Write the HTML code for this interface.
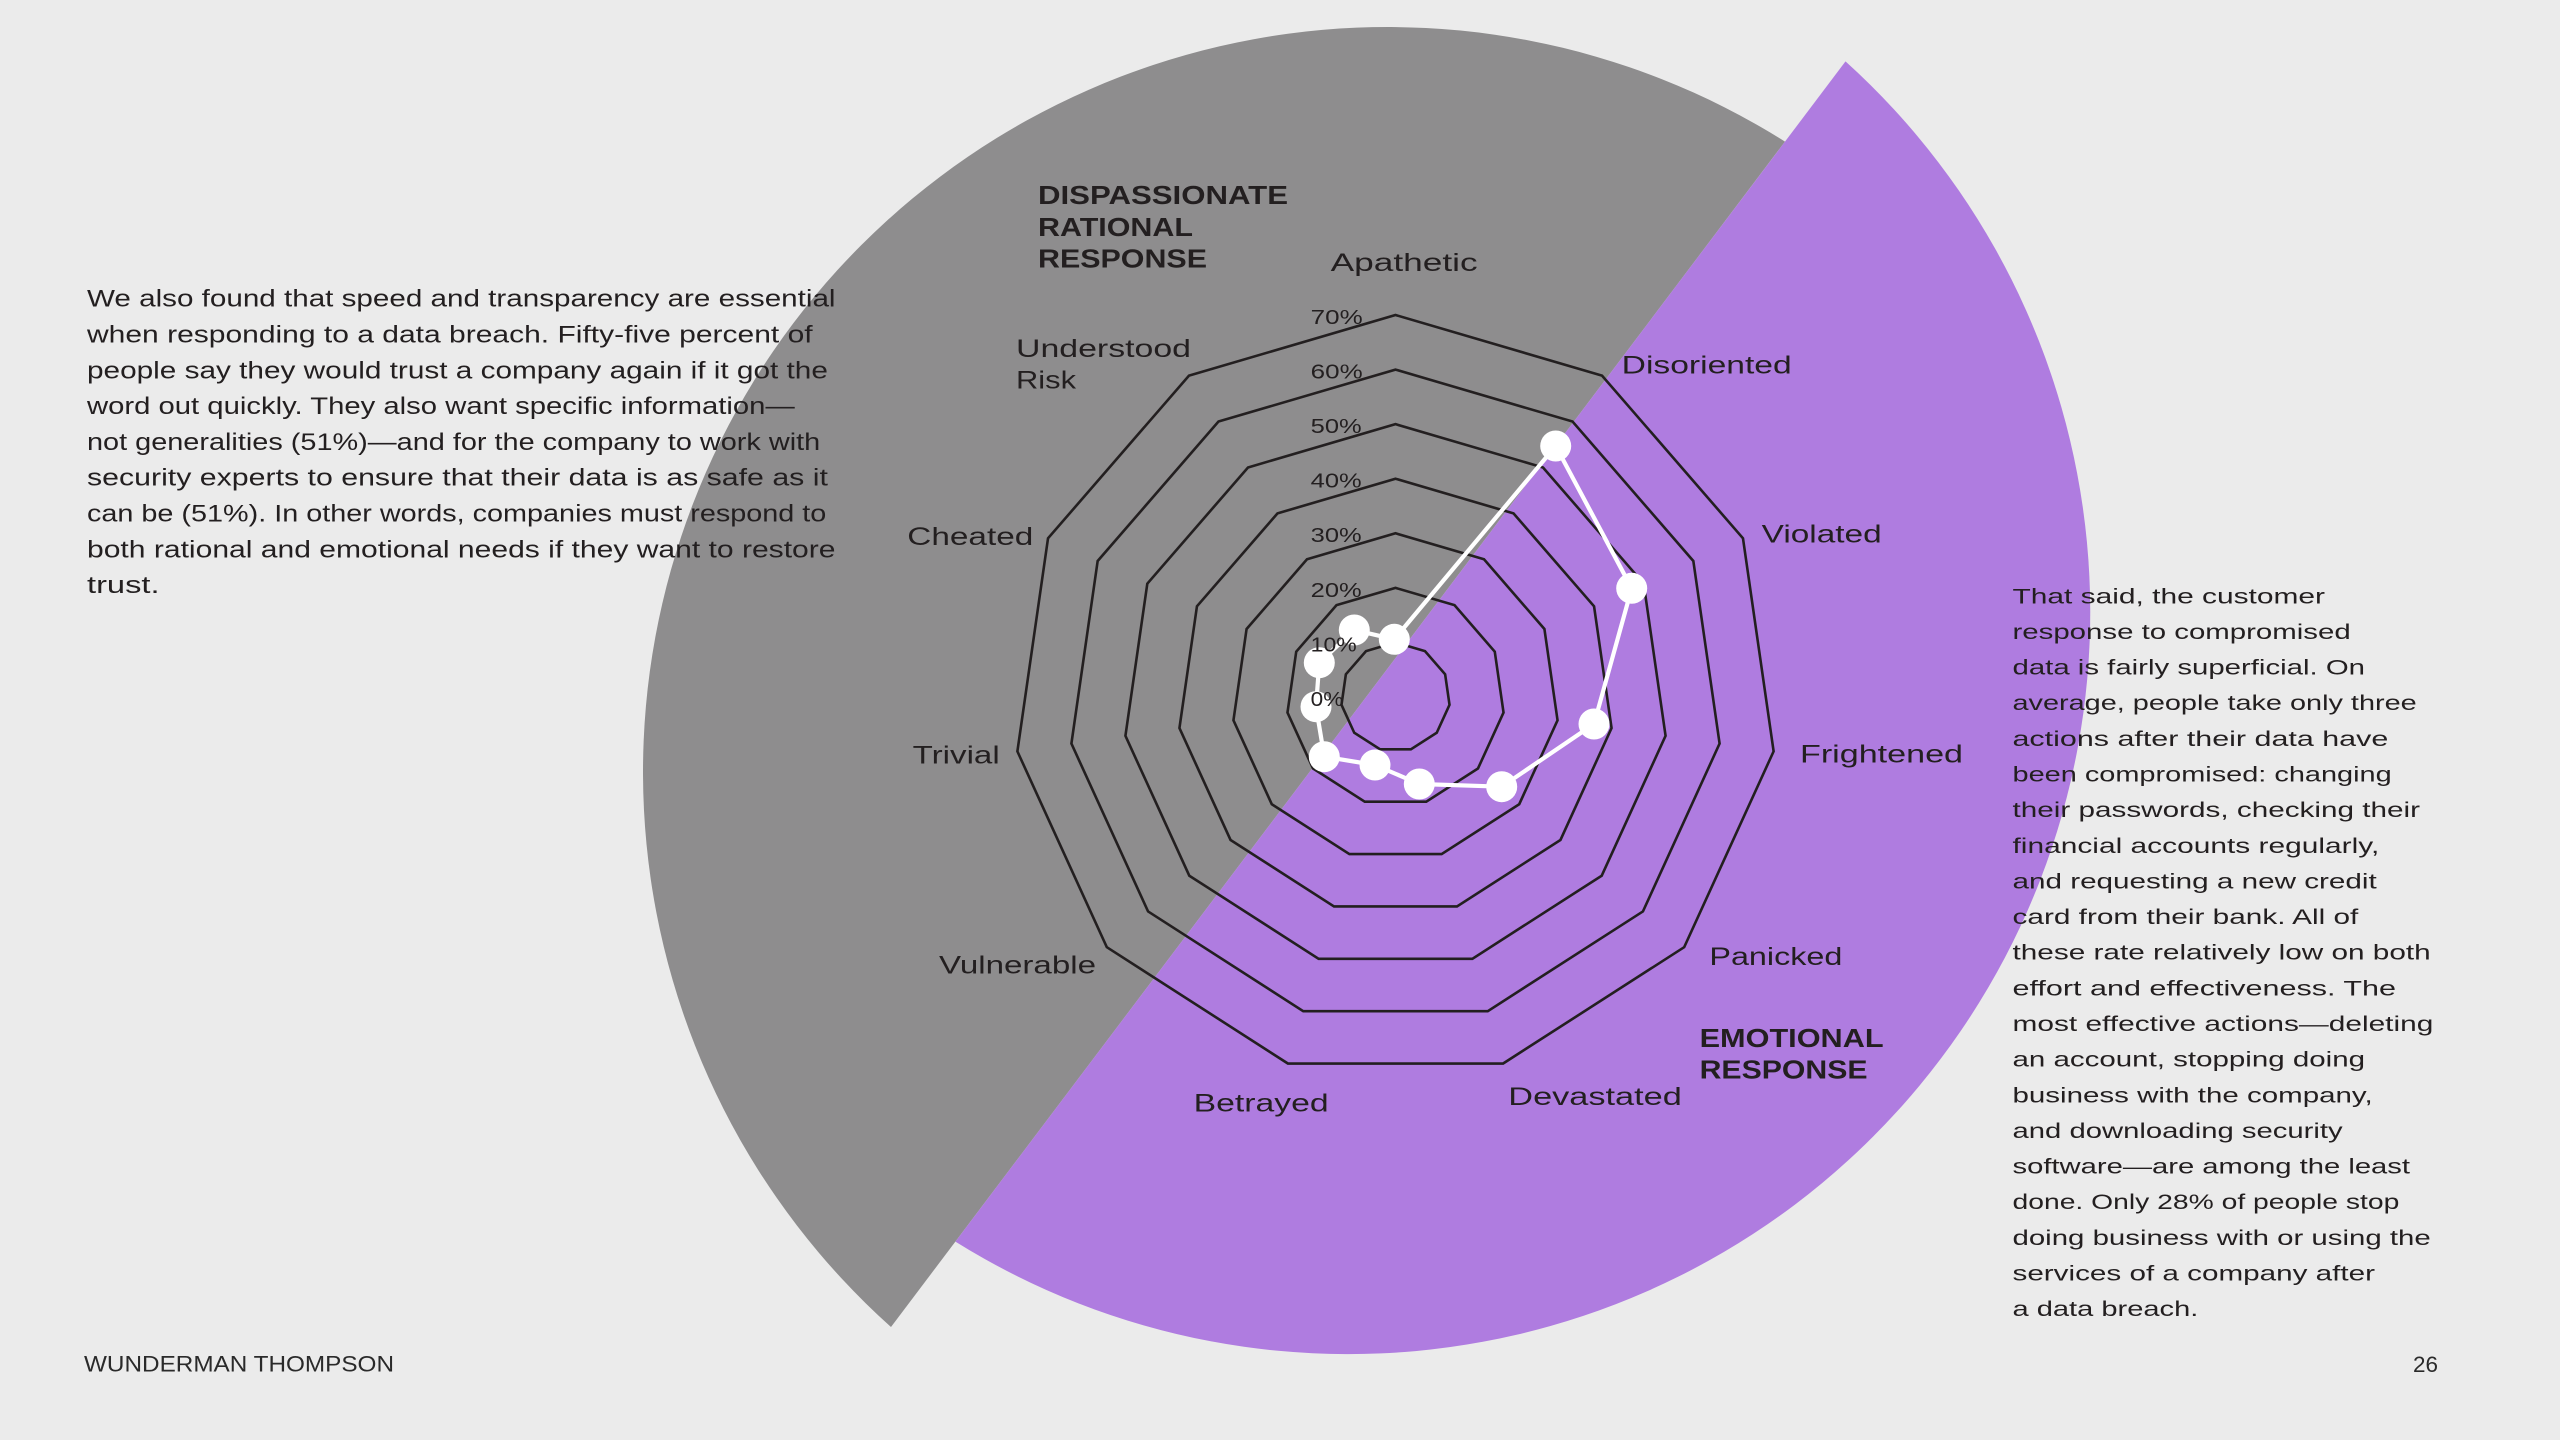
<!DOCTYPE html>
<html>
<head>
<meta charset="utf-8">
<style>
html,body{margin:0;padding:0;background:#ebebeb;overflow:hidden;}
body{width:2560px;height:1440px;}
svg{display:block;}
text{font-family:"Liberation Sans",Arial,sans-serif;fill:#231f20;}
.body{font-size:24px;}
.rt{font-size:21px;}
.lbl{font-size:25px;}
.pct{font-size:20px;}
.hd{font-size:25.5px;font-weight:bold;}
.ft{font-size:22px;fill:#2a2a2a;}
</style>
</head>
<body>
<svg width="2560" height="1440" viewBox="0 0 2560 1440" xmlns="http://www.w3.org/2000/svg">
<rect x="0" y="0" width="2560" height="1440" fill="#ebebeb"/>
<path d="M891.0,1327.0 A745,745 0 0 1 1785.0,141.6 Z" fill="#8e8d8e"/>
<path d="M1845.5,61.4 A742,742 0 0 1 955.4,1241.6 Z" fill="#af7ce0"/>

<g fill="none" stroke="#231f20" stroke-width="2.6" stroke-linejoin="miter">
<polygon vector-effect="non-scaling-stroke" transform="translate(1395.5,697) scale(0.5457)" points="0,-100 54.064,-84.125 90.963,-41.542 98.982,14.231 75.575,65.486 28.173,95.949 -28.173,95.949 -75.575,65.486 -98.982,14.231 -90.963,-41.542 -54.064,-84.125"/>
<polygon vector-effect="non-scaling-stroke" transform="translate(1395.5,697) scale(1.0914)" points="0,-100 54.064,-84.125 90.963,-41.542 98.982,14.231 75.575,65.486 28.173,95.949 -28.173,95.949 -75.575,65.486 -98.982,14.231 -90.963,-41.542 -54.064,-84.125"/>
<polygon vector-effect="non-scaling-stroke" transform="translate(1395.5,697) scale(1.6371)" points="0,-100 54.064,-84.125 90.963,-41.542 98.982,14.231 75.575,65.486 28.173,95.949 -28.173,95.949 -75.575,65.486 -98.982,14.231 -90.963,-41.542 -54.064,-84.125"/>
<polygon vector-effect="non-scaling-stroke" transform="translate(1395.5,697) scale(2.1828)" points="0,-100 54.064,-84.125 90.963,-41.542 98.982,14.231 75.575,65.486 28.173,95.949 -28.173,95.949 -75.575,65.486 -98.982,14.231 -90.963,-41.542 -54.064,-84.125"/>
<polygon vector-effect="non-scaling-stroke" transform="translate(1395.5,697) scale(2.7285)" points="0,-100 54.064,-84.125 90.963,-41.542 98.982,14.231 75.575,65.486 28.173,95.949 -28.173,95.949 -75.575,65.486 -98.982,14.231 -90.963,-41.542 -54.064,-84.125"/>
<polygon vector-effect="non-scaling-stroke" transform="translate(1395.5,697) scale(3.2742)" points="0,-100 54.064,-84.125 90.963,-41.542 98.982,14.231 75.575,65.486 28.173,95.949 -28.173,95.949 -75.575,65.486 -98.982,14.231 -90.963,-41.542 -54.064,-84.125"/>
<polygon vector-effect="non-scaling-stroke" transform="translate(1395.5,697) scale(3.82)" points="0,-100 54.064,-84.125 90.963,-41.542 98.982,14.231 75.575,65.486 28.173,95.949 -28.173,95.949 -75.575,65.486 -98.982,14.231 -90.963,-41.542 -54.064,-84.125"/>
</g>

<polygon fill="none" stroke="#ffffff" stroke-width="4.2" stroke-linejoin="round" points="1394.3,639.3 1555.7,446 1631.7,588.3 1594,724 1501.7,786.7 1419.3,784 1375,765 1324.3,756.7 1316,706.7 1319.3,662.7 1354.3,630"/>
<g fill="#ffffff">
<circle cx="1394.3" cy="639.3" r="15.5"/>
<circle cx="1555.7" cy="446" r="15.5"/>
<circle cx="1631.7" cy="588.3" r="15.5"/>
<circle cx="1594" cy="724" r="15.5"/>
<circle cx="1501.7" cy="786.7" r="15.5"/>
<circle cx="1419.3" cy="784" r="15.5"/>
<circle cx="1375" cy="765" r="15.5"/>
<circle cx="1324.3" cy="756.7" r="15.5"/>
<circle cx="1316" cy="706.7" r="15.5"/>
<circle cx="1319.3" cy="662.7" r="15.5"/>
<circle cx="1354.3" cy="630" r="15.5"/>
</g>

<text class="pct" x="1310.7" y="706" textLength="32.6" lengthAdjust="spacingAndGlyphs">0%</text>
<text class="pct" x="1310.7" y="651.4" textLength="46" lengthAdjust="spacingAndGlyphs">10%</text>
<text class="pct" x="1310.7" y="596.8" textLength="51" lengthAdjust="spacingAndGlyphs">20%</text>
<text class="pct" x="1310.7" y="542.2" textLength="51" lengthAdjust="spacingAndGlyphs">30%</text>
<text class="pct" x="1310.7" y="487.6" textLength="51" lengthAdjust="spacingAndGlyphs">40%</text>
<text class="pct" x="1310.7" y="433" textLength="51" lengthAdjust="spacingAndGlyphs">50%</text>
<text class="pct" x="1310.7" y="378.4" textLength="52" lengthAdjust="spacingAndGlyphs">60%</text>
<text class="pct" x="1310.7" y="323.8" textLength="52" lengthAdjust="spacingAndGlyphs">70%</text>

<text class="lbl" x="1330.6" y="271" textLength="147" lengthAdjust="spacingAndGlyphs">Apathetic</text>
<text class="lbl" x="1621.7" y="373.3" textLength="170" lengthAdjust="spacingAndGlyphs">Disoriented</text>
<text class="lbl" x="1016" y="357" textLength="175" lengthAdjust="spacingAndGlyphs">Understood</text>
<text class="lbl" x="1016" y="388.5" textLength="60" lengthAdjust="spacingAndGlyphs">Risk</text>
<text class="lbl" x="907.3" y="545" textLength="126" lengthAdjust="spacingAndGlyphs">Cheated</text>
<text class="lbl" x="1761.7" y="542.7" textLength="120" lengthAdjust="spacingAndGlyphs">Violated</text>
<text class="lbl" x="1800" y="762.5" textLength="163" lengthAdjust="spacingAndGlyphs">Frightened</text>
<text class="lbl" x="912.7" y="763.3" textLength="87" lengthAdjust="spacingAndGlyphs">Trivial</text>
<text class="lbl" x="939" y="973.3" textLength="157" lengthAdjust="spacingAndGlyphs">Vulnerable</text>
<text class="lbl" x="1709.4" y="965" textLength="133" lengthAdjust="spacingAndGlyphs">Panicked</text>
<text class="lbl" x="1193.6" y="1111.7" textLength="135" lengthAdjust="spacingAndGlyphs">Betrayed</text>
<text class="lbl" x="1508.3" y="1105" textLength="173.5" lengthAdjust="spacingAndGlyphs">Devastated</text>

<text class="hd" x="1038" y="204" textLength="250" lengthAdjust="spacingAndGlyphs">DISPASSIONATE</text>
<text class="hd" x="1038" y="235.8" textLength="155" lengthAdjust="spacingAndGlyphs">RATIONAL</text>
<text class="hd" x="1038" y="267.5" textLength="169" lengthAdjust="spacingAndGlyphs">RESPONSE</text>
<text class="hd" x="1699.6" y="1047" textLength="184" lengthAdjust="spacingAndGlyphs">EMOTIONAL</text>
<text class="hd" x="1699.6" y="1078.5" textLength="168" lengthAdjust="spacingAndGlyphs">RESPONSE</text>

<text class="body" x="87" y="306.7" textLength="748.5" lengthAdjust="spacingAndGlyphs">We also found that speed and transparency are essential</text>
<text class="body" x="87" y="342.5" textLength="725.6" lengthAdjust="spacingAndGlyphs">when responding to a data breach. Fifty-five percent of</text>
<text class="body" x="87" y="378.3" textLength="740.9" lengthAdjust="spacingAndGlyphs">people say they would trust a company again if it got the</text>
<text class="body" x="87" y="414.1" textLength="707.7" lengthAdjust="spacingAndGlyphs">word out quickly. They also want specific information—</text>
<text class="body" x="87" y="449.9" textLength="733.2" lengthAdjust="spacingAndGlyphs">not generalities (51%)—and for the company to work with</text>
<text class="body" x="87" y="485.7" textLength="740.9" lengthAdjust="spacingAndGlyphs">security experts to ensure that their data is as safe as it</text>
<text class="body" x="87" y="521.5" textLength="739.3" lengthAdjust="spacingAndGlyphs">can be (51%). In other words, companies must respond to</text>
<text class="body" x="87" y="557.3" textLength="748.5" lengthAdjust="spacingAndGlyphs">both rational and emotional needs if they want to restore</text>
<text class="body" x="87" y="593.1" textLength="72.5" lengthAdjust="spacingAndGlyphs">trust.</text>

<text class="rt" x="2012.5" y="603.3" textLength="312.5" lengthAdjust="spacingAndGlyphs">That said, the customer</text>
<text class="rt" x="2012.5" y="638.9" textLength="338.2" lengthAdjust="spacingAndGlyphs">response to compromised</text>
<text class="rt" x="2012.5" y="674.6" textLength="352.5" lengthAdjust="spacingAndGlyphs">data is fairly superficial. On</text>
<text class="rt" x="2012.5" y="710.2" textLength="404.2" lengthAdjust="spacingAndGlyphs">average, people take only three</text>
<text class="rt" x="2012.5" y="745.9" textLength="375.8" lengthAdjust="spacingAndGlyphs">actions after their data have</text>
<text class="rt" x="2012.5" y="781.5" textLength="379.2" lengthAdjust="spacingAndGlyphs">been compromised: changing</text>
<text class="rt" x="2012.5" y="817.1" textLength="407.5" lengthAdjust="spacingAndGlyphs">their passwords, checking their</text>
<text class="rt" x="2012.5" y="852.8" textLength="366.8" lengthAdjust="spacingAndGlyphs">financial accounts regularly,</text>
<text class="rt" x="2012.5" y="888.4" textLength="364.2" lengthAdjust="spacingAndGlyphs">and requesting a new credit</text>
<text class="rt" x="2012.5" y="924.1" textLength="345.8" lengthAdjust="spacingAndGlyphs">card from their bank. All of</text>
<text class="rt" x="2012.5" y="959.7" textLength="418.2" lengthAdjust="spacingAndGlyphs">these rate relatively low on both</text>
<text class="rt" x="2012.5" y="995.3" textLength="383.5" lengthAdjust="spacingAndGlyphs">effort and effectiveness. The</text>
<text class="rt" x="2012.5" y="1031" textLength="420.8" lengthAdjust="spacingAndGlyphs">most effective actions—deleting</text>
<text class="rt" x="2012.5" y="1066.6" textLength="352.5" lengthAdjust="spacingAndGlyphs">an account, stopping doing</text>
<text class="rt" x="2012.5" y="1102.3" textLength="360.2" lengthAdjust="spacingAndGlyphs">business with the company,</text>
<text class="rt" x="2012.5" y="1137.9" textLength="330.2" lengthAdjust="spacingAndGlyphs">and downloading security</text>
<text class="rt" x="2012.5" y="1173.5" textLength="397.5" lengthAdjust="spacingAndGlyphs">software—are among the least</text>
<text class="rt" x="2012.5" y="1209.2" textLength="386.8" lengthAdjust="spacingAndGlyphs">done. Only 28% of people stop</text>
<text class="rt" x="2012.5" y="1244.8" textLength="418.2" lengthAdjust="spacingAndGlyphs">doing business with or using the</text>
<text class="rt" x="2012.5" y="1280.5" textLength="362.5" lengthAdjust="spacingAndGlyphs">services of a company after</text>
<text class="rt" x="2012.5" y="1316.1" textLength="185.8" lengthAdjust="spacingAndGlyphs">a data breach.</text>

<text class="ft" x="84" y="1371.7" textLength="310" lengthAdjust="spacingAndGlyphs">WUNDERMAN THOMPSON</text>
<text class="ft" x="2413" y="1372" textLength="25" lengthAdjust="spacingAndGlyphs">26</text>
</svg>
</body>
</html>
